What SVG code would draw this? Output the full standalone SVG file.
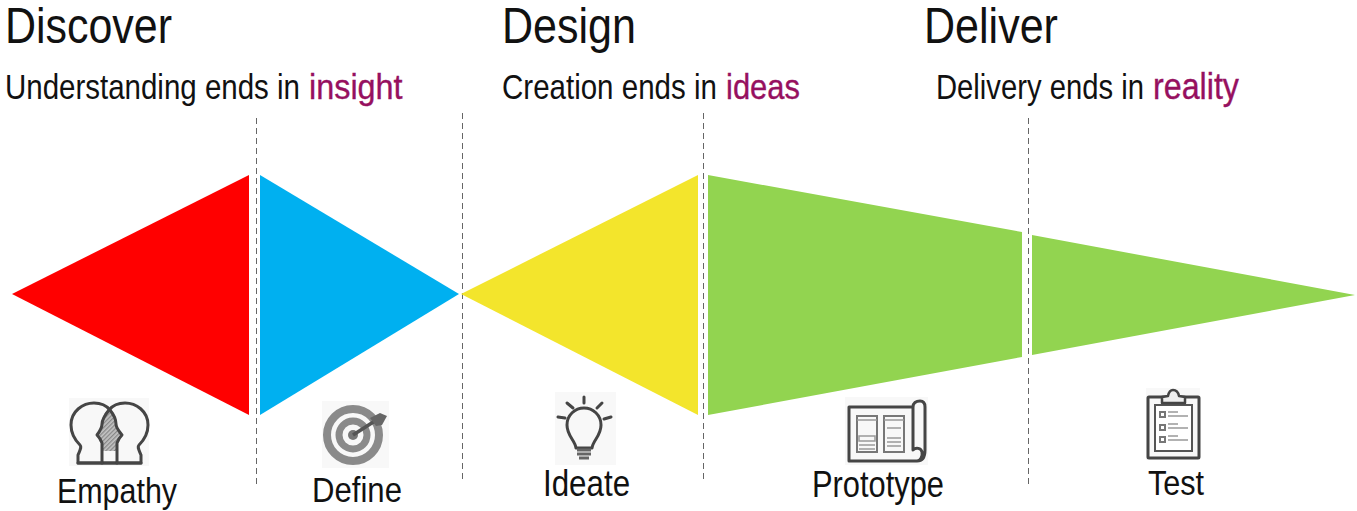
<svg xmlns="http://www.w3.org/2000/svg" width="1357" height="511" viewBox="0 0 1357 511">
<style>
text{font-family:"Liberation Sans",Arial,sans-serif;fill:#111}
.h{font-size:50px}.s{font-size:36px}.l{font-size:36px}
text.m{fill:#96105f;stroke:#96105f;stroke-width:.35}
.d{stroke:#666;stroke-width:1;stroke-dasharray:6 4;fill:none}
.bg{fill:#f8f8f8}
.i{fill:none;stroke:#444;stroke-width:3;stroke-linejoin:round;stroke-linecap:round}
.t{fill:none;stroke:#777;stroke-width:2}
.g{fill:none;stroke:#999;stroke-width:1.5}
</style>
<defs>
<pattern id="hatch" width="3" height="3" patternUnits="userSpaceOnUse" patternTransform="rotate(45)"><rect width="3" height="3" fill="#c4c4c4"/><rect width="1.3" height="3" fill="#888"/></pattern>
<filter id="soft" x="-5%" y="-5%" width="110%" height="110%"><feGaussianBlur stdDeviation="0.45"/></filter>
</defs>
<rect width="1357" height="511" fill="#fff"/>
<g id="headings">
<text class="h" transform="translate(5 43) scale(.859 1)">Discover</text>
<text class="h" transform="translate(502 43) scale(.861 1)">Design</text>
<text class="h" transform="translate(924 43) scale(.861 1)">Deliver</text>
<text class="s" transform="translate(5 99) scale(.819 1)">Understanding ends in</text>
<text class="s m" transform="translate(309 99) scale(.9 1)">insight</text>
<text class="s" transform="translate(502 99) scale(.82 1)">Creation ends in</text>
<text class="s m" transform="translate(726 99) scale(.86 1)">ideas</text>
<text class="s" transform="translate(936 99) scale(.812 1)">Delivery ends in</text>
<text class="s m" transform="translate(1153 99) scale(.896 1)">reality</text>
</g>
<g id="connectors">
<path class="d" d="M256.500 118V488"/>
<path class="d" d="M462.500 113V483"/>
<path class="d" d="M703.500 113V483"/>
<path class="d" d="M1028.500 118V488"/>
</g>
<g id="stage-empathy">
<polygon points="12,294 249,175 249,415" fill="#ff0000"/>
<g filter="url(#soft)">
<rect class="bg" x="69" y="398" width="80" height="68"/>
<path d="M109 408C104 413 102 417 103 421C103 426 102 430 97 435C101 439 102 441 102 445L102 451H117L117 445C118 441 119 439 122 435C117 430 116 426 116 421C117 417 114 413 109 408Z" fill="url(#hatch)"/>
<path class="i" d="M78 463L78 455C80 450 82 447 80 445C74 439 71 432 71 425C71 411 83 403 94 403C101 403 106 405 110 410C114 415 116 420 116 424C116 428 119 431 122 435C119 438 118 440 117 443L117 463Z"/>
<path class="i" d="M141 463L141 455C139 450 137 447 139 445C145 439 148 432 148 425C148 411 136 403 125 403C118 403 113 405 109 410C105 415 102 420 102 424C102 428 100 431 97 435C100 438 101 440 102 443L102 463Z"/>
<path class="i" d="M78 463H102M117 463H141"/>
</g>
<text class="l" transform="translate(57 503) scale(.845 1)">Empathy</text>
</g>
<g id="stage-define">
<polygon points="260,175 260,415 459,294" fill="#00b0f0"/>
<g filter="url(#soft)">
<rect class="bg" x="322" y="401" width="67" height="67"/>
<circle cx="353" cy="435" r="26" fill="none" stroke="#8a8a8a" stroke-width="8"/>
<circle cx="353" cy="435" r="14" fill="none" stroke="#8a8a8a" stroke-width="7"/>
<circle cx="353" cy="435" r="5" fill="#777"/>
<path d="M353 435L378 419" stroke="#555" stroke-width="3.500" fill="none"/>
<path d="M370 418L380 413L387 416L382 425L376 426Z" fill="#666"/>
</g>
<text class="l" transform="translate(312 502) scale(.865 1)">Define</text>
</g>
<g id="stage-ideate">
<polygon points="461,294 698,175 698,415" fill="#f3e52c"/>
<g filter="url(#soft)">
<rect class="bg" x="555" y="392" width="61" height="73"/>
<path class="i" d="M576 448C575 440 567 436 567 425C567 415 575 408 584 408C593 408 601 415 601 425C601 436 593 440 592 448Z"/>
<path class="i" d="M584 397V403M567 403L573 408M602 403L597 408M558 417L565 418M611 417L604 419"/>
<path d="M577 450H591M577 454H591M579 458H589" stroke="#666" stroke-width="3" fill="none"/>
</g>
<text class="l" transform="translate(543 496) scale(.87 1)">Ideate</text>
</g>
<g id="stage-prototype">
<polygon points="708,175 1022,232 1022,357 708,415" fill="#92d450"/>
<g filter="url(#soft)">
<rect class="bg" x="845" y="397" width="83" height="68"/>
<path class="i" d="M913 407H849V461H917C923 461 925 456 925 450V407C925 403 923 401 920 401C916 401 913 403 913 407V450C916 447 921 448 922 452C923 457 920 461 917 461"/>
<rect class="t" x="857" y="416" width="20" height="36"/>
<rect class="t" x="884" y="416" width="20" height="36"/>
<path class="g" d="M857 420H877M859 436H875V441H859ZM859 445H875M859 449H875M884 420H904M887 428H901M887 438H901M887 442H901M887 446H901"/>
</g>
<text class="l" transform="translate(812 497) scale(.857 1)">Prototype</text>
</g>
<g id="stage-test">
<polygon points="1032,235 1355,295 1032,355" fill="#92d450"/>
<g filter="url(#soft)">
<rect class="bg" x="1146" y="388" width="54" height="72"/>
<rect class="i" x="1148" y="397" width="51" height="61" rx="1"/>
<rect x="1155" y="405" width="37" height="46" fill="#fff" stroke="#555" stroke-width="2"/>
<path d="M1162 403V397L1168 396C1169 391 1171 390 1173 390C1176 390 1178 391 1179 396L1185 397V403Z" fill="#eee" stroke="#444" stroke-width="2.500" stroke-linejoin="round"/>
<rect class="t" x="1160" y="412" width="5" height="5"/>
<rect class="t" x="1160" y="425" width="5" height="5"/>
<rect class="t" x="1160" y="437" width="5" height="5"/>
<path class="g" d="M1168 412H1178M1168 416H1188M1168 424H1178M1168 428H1188M1168 436H1178M1168 440H1188"/>
</g>
<text class="l" transform="translate(1148 495) scale(.85 1)">Test</text>
</g>
</svg>
